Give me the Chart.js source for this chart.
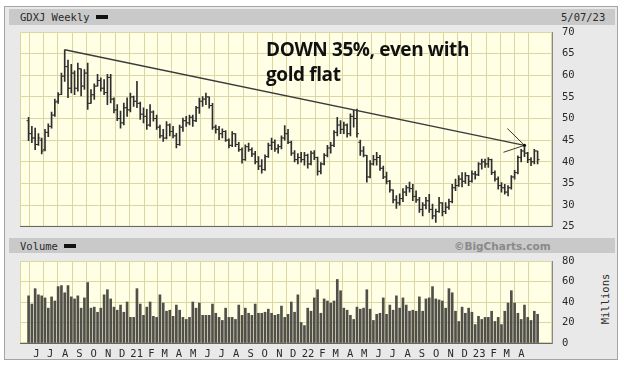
<!DOCTYPE html>
<html lang="en">
<head>
<meta charset="UTF-8">
<title>GDXJ Weekly</title>
<script src="https://cdn.jsdelivr.net/npm/chart.js"></script>
<style>
  body { margin: 0; width: 624px; height: 366px; background: #fff; position: relative; overflow: hidden;
         font-family: "DejaVu Sans Mono", monospace; color: #2a2a2a; }
  .frame { position: absolute; left: 4px; top: 6px; width: 612px; height: 352px; background: #e9e9e9; border: 1px solid #a4a4a4; }
  .band { position: absolute; left: 9px; width: 606px; background: #c9c9c9; }
  .lbl { position: absolute; font-size: 10.5px; line-height: 12px; white-space: nowrap; }
  .dash { display: inline-block; width: 12px; height: 4px; background: #111; vertical-align: 2px; margin-left: 6px; }
  canvas { position: absolute; left: 0; }
  #note { position: absolute; left: 266px; top: 37px; font-family: "Open Sans", sans-serif; font-weight: 700;
          font-size: 19px; line-height: 25px; letter-spacing: -0.4px; color: #111; white-space: nowrap; }
</style>
</head>
<body>
  <div class="frame"></div>
  <div class="band" style="top:9px;height:16px"></div>
  <div class="band" style="top:238px;height:15px"></div>

  <div class="lbl" style="left:20px;top:11px">GDXJ Weekly<span class="dash"></span></div>
  <div class="lbl" style="left:561px;top:11px">5/07/23</div>
  <div class="lbl" style="left:20px;top:240px">Volume<span class="dash"></span></div>
  <div class="lbl" style="left:454px;top:240px;font-family:'DejaVu Sans',sans-serif;font-weight:bold;color:#8a8a8a">©BigCharts.com</div>
  <div class="lbl" style="left:575px;top:293px;width:60px;text-align:center;transform:rotate(-90deg)">Millions</div>

  <canvas id="volume" width="624" height="126" style="top:240px"></canvas>
  <canvas id="price" width="624" height="243" style="top:0"></canvas>

  <div id="note">DOWN 35%, even with<br>gold flat</div>

<script>
// weekly bars, May 2020 .. May 2023
const opens = [49.5,46.5,45.5,44.0,45.0,42.8,46.8,48.2,50.8,54.0,55.6,59.8,62.0,57.0,60.5,57.0,61.5,57.5,60.5,53.5,
  55.5,57.5,58.8,57.0,56.0,59.5,54.5,52.0,50.0,49.0,52.5,52.0,55.0,54.0,53.5,51.0,50.5,48.5,51.5,50.0,
  48.0,46.0,45.5,48.5,47.0,46.0,44.0,48.0,49.5,49.0,50.3,49.5,52.5,54.0,54.5,55.0,53.0,48.0,47.5,46.5,
  47.0,45.0,43.8,46.5,44.0,42.8,40.5,43.5,42.8,41.8,40.0,39.0,38.2,41.2,43.8,44.5,43.0,43.5,45.5,46.5,
  44.5,42.0,40.5,41.0,40.5,41.5,39.5,42.0,41.0,37.8,39.5,41.5,43.2,43.8,46.8,48.5,47.5,48.5,46.5,50.5,
  50.0,44.5,42.5,41.5,36.5,39.5,40.5,41.0,38.5,36.5,35.5,33.5,31.2,30.5,31.5,33.0,34.0,33.8,32.0,31.2,
  29.0,30.0,31.0,29.0,27.5,28.5,30.5,28.5,29.5,30.8,34.0,34.5,36.0,35.5,36.8,35.5,37.2,37.0,39.5,40.0,
  39.5,40.5,37.5,36.0,34.5,34.0,33.0,34.0,36.5,37.5,41.0,42.5,42.0,40.5,40.0,42.5];
const highs = [50.3,48.2,47.8,46.5,45.5,47.5,48.8,51.5,54.5,56.0,60.5,65.9,63.5,62.5,61.0,62.8,61.5,61.3,62.8,56.7,
  58.0,60.2,59.4,59.0,60.2,60.2,54.8,53.2,51.7,53.6,54.8,55.9,55.2,58.6,53.8,52.5,52.1,53.2,51.8,50.8,
  48.5,47.5,49.3,48.8,48.2,46.6,48.5,50.1,50.5,50.8,50.8,52.8,54.7,55.1,55.9,55.0,53.5,48.5,48.2,47.6,
  47.2,45.3,47.0,46.5,44.5,43.2,43.9,44.3,43.2,42.4,41.2,40.5,41.6,44.3,45.5,45.1,44.0,46.0,48.4,47.5,
  44.8,42.6,41.9,42.2,42.2,41.8,42.5,42.6,41.1,39.8,41.9,43.8,44.5,47.2,50.3,49.5,49.2,48.8,51.1,51.9,
  52.2,45.0,43.5,41.5,40.3,41.5,42.2,41.5,39.0,37.6,35.7,33.5,32.2,32.6,33.8,34.5,35.3,34.8,33.3,31.8,
  30.6,31.8,32.5,30.2,29.1,31.8,30.6,30.6,31.4,34.8,36.0,36.8,37.5,37.5,36.9,37.9,37.8,39.8,40.6,40.6,
  41.0,40.6,37.9,36.5,35.2,34.8,34.5,36.8,38.0,41.4,42.9,43.8,42.2,41.0,42.9,42.5];
const lows = [44.9,44.4,42.8,43.8,41.8,42.5,45.8,47.8,50.5,53.5,55.5,58.6,54.8,55.9,55.5,56.3,55.2,56.7,52.1,53.5,
  54.4,57.5,56.3,55.5,53.2,53.6,51.3,49.5,47.8,48.5,50.5,51.5,52.8,52.5,49.8,49.0,47.5,48.2,49.4,47.5,
  45.5,44.7,45.3,46.0,45.5,43.2,43.8,47.0,48.2,48.5,48.2,49.3,51.2,52.8,53.2,52.4,47.5,46.6,45.1,45.5,
  44.7,43.2,43.5,43.5,42.4,39.7,40.3,42.4,41.2,39.5,38.2,37.4,38.0,41.0,42.8,42.4,42.0,43.0,45.0,44.2,
  41.5,40.0,39.5,39.9,39.2,38.5,39.3,40.5,36.9,37.2,39.3,41.1,42.0,43.5,46.0,46.5,46.5,45.7,46.0,48.0,
  45.7,41.5,41.1,35.3,36.3,39.2,39.2,38.0,36.1,34.9,33.0,30.5,29.2,30.0,30.8,32.2,33.0,31.0,30.6,28.3,
  27.5,29.1,28.3,26.8,26.0,28.3,27.5,28.0,29.0,30.5,33.3,34.3,34.2,35.0,34.5,35.3,36.0,36.8,38.3,38.7,
  38.7,37.0,35.5,33.7,33.0,32.5,32.1,33.7,36.0,37.2,40.0,41.2,39.8,39.1,39.5,39.5];
const closes = [46.5,45.5,44.0,45.5,42.5,46.8,48.2,50.8,53.8,55.5,59.8,62.0,57.0,60.5,57.0,61.5,57.5,60.5,53.5,55.5,
  57.5,58.8,57.0,56.0,59.5,54.5,52.0,50.0,49.0,52.5,52.0,55.0,54.0,53.5,51.0,50.5,48.5,51.5,50.0,48.0,
  46.0,45.5,48.5,47.0,46.0,44.0,48.0,49.5,49.0,50.3,49.5,52.5,54.0,54.5,55.0,53.0,48.0,47.5,46.5,47.0,
  45.0,43.8,46.5,44.0,42.8,40.5,43.5,42.8,41.8,40.0,39.0,38.2,41.2,43.8,44.5,43.0,43.5,45.5,46.5,44.5,
  42.0,40.5,41.0,40.5,41.5,39.5,42.0,41.0,37.8,39.5,41.5,43.2,43.8,46.8,48.5,47.5,48.5,46.5,50.5,50.0,
  46.5,42.5,41.5,36.5,39.5,40.5,41.0,38.5,36.5,35.5,33.5,31.2,30.5,31.5,33.0,34.0,33.8,32.0,31.2,29.0,
  30.0,31.0,29.0,27.5,28.5,30.5,28.5,29.5,30.8,34.0,34.5,36.0,35.5,36.8,35.5,37.2,37.0,39.5,40.0,39.5,
  40.5,37.5,36.0,34.5,34.0,33.0,34.0,36.5,37.5,41.0,42.5,42.0,40.5,40.0,42.5,40.5];
// volume, millions of shares
const volumes = [46,38,53,47,46,44,34,45,41,55,56,49,56,45,43,46,34,44,59,34,
  35,30,34,47,52,43,35,32,37,30,40,25,25,53,38,27,35,40,26,25,
  47,39,31,32,26,37,32,25,23,25,40,34,39,27,27,27,38,29,25,22,
  34,25,25,23,37,27,34,29,27,38,29,29,30,33,29,27,28,36,25,28,
  40,30,47,20,17,34,31,44,52,29,43,41,39,41,62,51,34,32,27,23,
  35,33,34,52,33,22,28,29,44,28,37,32,46,34,44,37,31,32,31,45,
  31,43,44,55,43,42,41,34,53,49,31,21,35,29,34,30,18,26,23,25,
  25,31,21,25,18,31,39,51,39,29,23,37,25,22,31,28];

// month ticks (position in weeks from the first bar)
const monthLabels = ['J','J','A','S','O','N','D','21','F','M','A','M','J','J','A','S','O','N','D','22',
  'F','M','A','M','J','J','A','S','O','N','D','23','F','M','A'];
const monthPos = [2.4,6.6,11.1,15.5,19.8,24.2,28.5,32.9,37.4,41.4,45.8,50.1,54.5,58.8,63.2,67.6,71.9,76.4,80.6,85.1,
  89.5,93.5,97.9,102.2,106.6,110.9,115.4,119.8,124.1,128.5,132.8,137.2,141.6,145.6,150.1];

// hand drawn trend line and arrow (week index, price)
const trendX = [11, 151];
const trendY = [65.9, 43.8];
const arrowX = [145.8, 151, 144.6];
const arrowY = [47.7, 43.8, 42.2];

const xMin = -0.3, xMax = 157.07;
const gridColor = '#dcd5a4';
const barColor = '#2e2e2e';
const tickFont = { family: 'DejaVu Sans Mono', size: 10.5 };

const bgPlugin = {
  id: 'bg',
  beforeDraw(chart) {
    const { ctx, chartArea: a } = chart;
    ctx.save();
    ctx.fillStyle = '#ffffe6';
    ctx.fillRect(a.left, a.top, a.right - a.left, a.bottom - a.top);
    ctx.strokeStyle = gridColor;
    ctx.strokeRect(a.left + 0.5, a.top + 0.5, a.right - a.left - 1, a.bottom - a.top - 1);
    ctx.restore();
  }
};

// open/close ticks, trend line, arrow
const ohlcPlugin = {
  id: 'ohlc',
  afterDatasetsDraw(chart) {
    const { ctx, scales: { x, y } } = chart;
    ctx.save();
    ctx.strokeStyle = barColor;
    ctx.lineWidth = 1;
    ctx.beginPath();
    opens.forEach((o, i) => {
      const px = x.getPixelForValue(i);
      const po = y.getPixelForValue(o);
      const pc = y.getPixelForValue(closes[i]);
      ctx.moveTo(px - 2, po); ctx.lineTo(px, po);
      ctx.moveTo(px, pc); ctx.lineTo(px + 2, pc);
    });
    ctx.stroke();

    ctx.strokeStyle = '#3a3a3a';
    ctx.lineWidth = 1.4;
    ctx.beginPath();
    ctx.moveTo(x.getPixelForValue(trendX[0]), y.getPixelForValue(trendY[0]));
    ctx.lineTo(x.getPixelForValue(trendX[1]), y.getPixelForValue(trendY[1]));
    ctx.stroke();

    ctx.lineWidth = 1;
    ctx.beginPath();
    arrowX.forEach((v, i) => {
      const px = x.getPixelForValue(v), py = y.getPixelForValue(arrowY[i]);
      if (i === 0) ctx.moveTo(px, py); else ctx.lineTo(px, py);
    });
    ctx.stroke();
    ctx.fillStyle = '#111';
    ctx.beginPath();
    ctx.arc(x.getPixelForValue(arrowX[1]), y.getPixelForValue(arrowY[1]), 1.6, 0, Math.PI * 2);
    ctx.fill();
    ctx.restore();
  }
};

function monthAxis(showLabels) {
  return {
    type: 'linear', min: xMin, max: xMax,
    afterBuildTicks: s => { s.ticks = monthPos.map(v => ({ value: v })); },
    ticks: { display: showLabels, autoSkip: false, maxRotation: 0, padding: 5, font: tickFont, color: '#2a2a2a',
             callback: (v, i) => monthLabels[i] },
    grid: { color: gridColor, drawTicks: false },
    border: { display: true, color: '#666' },
    afterFit: s => { s.height = showLabels ? 20 : 0; }
  };
}

// price panel: bottom of plot = canvas height - (half label + tick padding)
new Chart(document.getElementById('price'), {
  type: 'bar',
  data: {
    datasets: [{
      data: highs.map((h, i) => ({ x: i, y: [lows[i], h] })),
      backgroundColor: barColor,
      barThickness: 1
    }]
  },
  options: {
    responsive: false, animation: false,
    layout: { padding: { left: 20, top: 32, right: 0, bottom: 2 } },
    plugins: { legend: { display: false }, tooltip: { enabled: false } },
    scales: {
      x: monthAxis(false),
      y: {
        position: 'right', min: 25, max: 70,
        ticks: { stepSize: 5, padding: 10, font: tickFont, color: '#2a2a2a' },
        grid: { color: gridColor, drawTicks: false },
        border: { display: true, color: '#888' },
        afterFit: s => { s.width = 72; }
      }
    }
  },
  plugins: [bgPlugin, ohlcPlugin]
});

new Chart(document.getElementById('volume'), {
  type: 'bar',
  data: {
    datasets: [{
      data: volumes.map((v, i) => ({ x: i, y: v })),
      backgroundColor: '#505049',
      barThickness: 2
    }]
  },
  options: {
    responsive: false, animation: false,
    layout: { padding: { left: 20, top: 21, right: 0, bottom: 3 } },
    plugins: { legend: { display: false }, tooltip: { enabled: false } },
    scales: {
      x: monthAxis(true),
      y: {
        position: 'right', min: 0, max: 80,
        ticks: { stepSize: 20, padding: 10, font: tickFont, color: '#2a2a2a' },
        grid: { color: gridColor, drawTicks: false },
        border: { display: true, color: '#888' },
        afterFit: s => { s.width = 72; }
      }
    }
  },
  plugins: [bgPlugin]
});
</script>
</body>
</html>
